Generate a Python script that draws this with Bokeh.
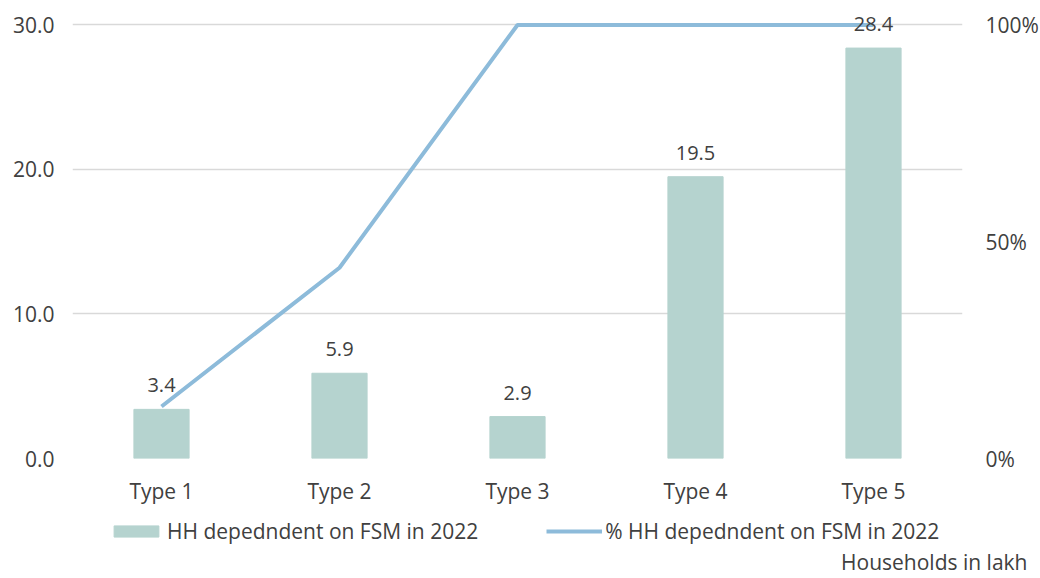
from bokeh.plotting import figure
from bokeh.models import (ColumnDataSource, LinearAxis, Range1d, FixedTicker, NumeralTickFormatter,
                          LabelSet, Legend, LegendItem, Label)
from bokeh.core.properties import value
from bokeh.embed import file_html
from bokeh.resources import INLINE

categories = ["Type 1", "Type 2", "Type 3", "Type 4", "Type 5"]
hh_values = [3.4, 5.9, 2.9, 19.5, 28.4]
pct_values = [0.12, 0.44, 1.0, 1.0, 1.0]
hh_labels = ["3.4", "5.9", "2.9", "19.5", "28.4"]
left_ticks = [0, 10, 20, 30]
right_ticks = [0, 0.5, 1.0]
legend_labels = ["HH depedndent on FSM in 2022", "% HH depedndent on FSM in 2022"]
note_text = "Households in lakh"

FONT = "Open Sans"
TXT = "#404040"
BAR = "#B5D3CF"
LINE = "#8DBBDA"
FS = "21px"

ymax = 31.0
p = figure(x_range=categories, y_range=Range1d(0, ymax), frame_width=890, frame_height=448,
           output_backend="svg", toolbar_location=None,
           min_border_left=72, min_border_right=20, min_border_top=10, min_border_bottom=54)
p.extra_y_ranges = {"pct": Range1d(0, ymax / 30.0)}
p.outline_line_color = None

src = ColumnDataSource(dict(cat=categories, hh=hh_values, pct=pct_values, lab=hh_labels))

bars = p.vbar(x="cat", top="hh", width=0.31, source=src, color=BAR)
line = p.line(x="cat", y="pct", source=src, y_range_name="pct", line_color=LINE, line_width=4)

labels = LabelSet(x="cat", y="hh", text="lab", source=src, y_offset=17, text_align="center",
                  text_baseline="bottom", text_font=value(FONT), text_font_size="20px",
                  text_color=TXT)
p.add_layout(labels)

def style_axis(a, standoff):
    a.axis_line_color = None
    a.major_tick_line_color = None
    a.minor_tick_line_color = None
    a.major_tick_out = 0
    a.major_tick_in = 0
    a.minor_tick_out = 0
    a.major_label_text_font = FONT
    a.major_label_text_font_size = FS
    a.major_label_text_color = TXT
    a.major_label_standoff = standoff

ax = p.yaxis[0]
ax.ticker = FixedTicker(ticks=left_ticks)
ax.formatter = NumeralTickFormatter(format="0.0")
style_axis(ax, 18)

rax = LinearAxis(y_range_name="pct", ticker=FixedTicker(ticks=right_ticks),
                 formatter=NumeralTickFormatter(format="0%"))
style_axis(rax, 23)
p.add_layout(rax, "right")

style_axis(p.xaxis[0], 18)

p.xgrid.grid_line_color = None
p.ygrid.ticker = FixedTicker(ticks=left_ticks)
p.ygrid.grid_line_color = "#D9D9D9"
p.ygrid.grid_line_width = 1.5

# legend / note strip below the chart (separate root, no frame alignment)
QW, QH = 1036, 64
q = figure(width=QW, height=QH, x_range=Range1d(0, QW), y_range=Range1d(0, QH),
           output_backend="svg", toolbar_location=None, min_border=0)
q.axis.visible = False
q.grid.visible = False
q.outline_line_color = None
nan = float("nan")
leg_bar = q.vbar(x=[nan], top=[nan], width=1, color=BAR)
leg_line = q.line(x=[nan, nan], y=[nan, nan], line_color=LINE, line_width=4)

legend = Legend(items=[LegendItem(label=legend_labels[0], renderers=[leg_bar]),
                       LegendItem(label=legend_labels[1], renderers=[leg_line])],
                orientation="horizontal", location=(108, 31), border_line_color=None,
                label_text_font=FONT, label_text_font_size=FS, label_text_color=TXT,
                glyph_width=56, glyph_height=14, spacing=68, label_standoff=3,
                padding=0, margin=0, background_fill_alpha=0)
q.add_layout(legend)

note = Label(x=1027, y=15, x_units="screen", y_units="screen", text=note_text,
             text_align="right", text_baseline="middle", text_font=FONT, text_font_size=FS,
             text_color=TXT)
q.add_layout(note)

open("out.html", "w").write(file_html([p, q], INLINE))
